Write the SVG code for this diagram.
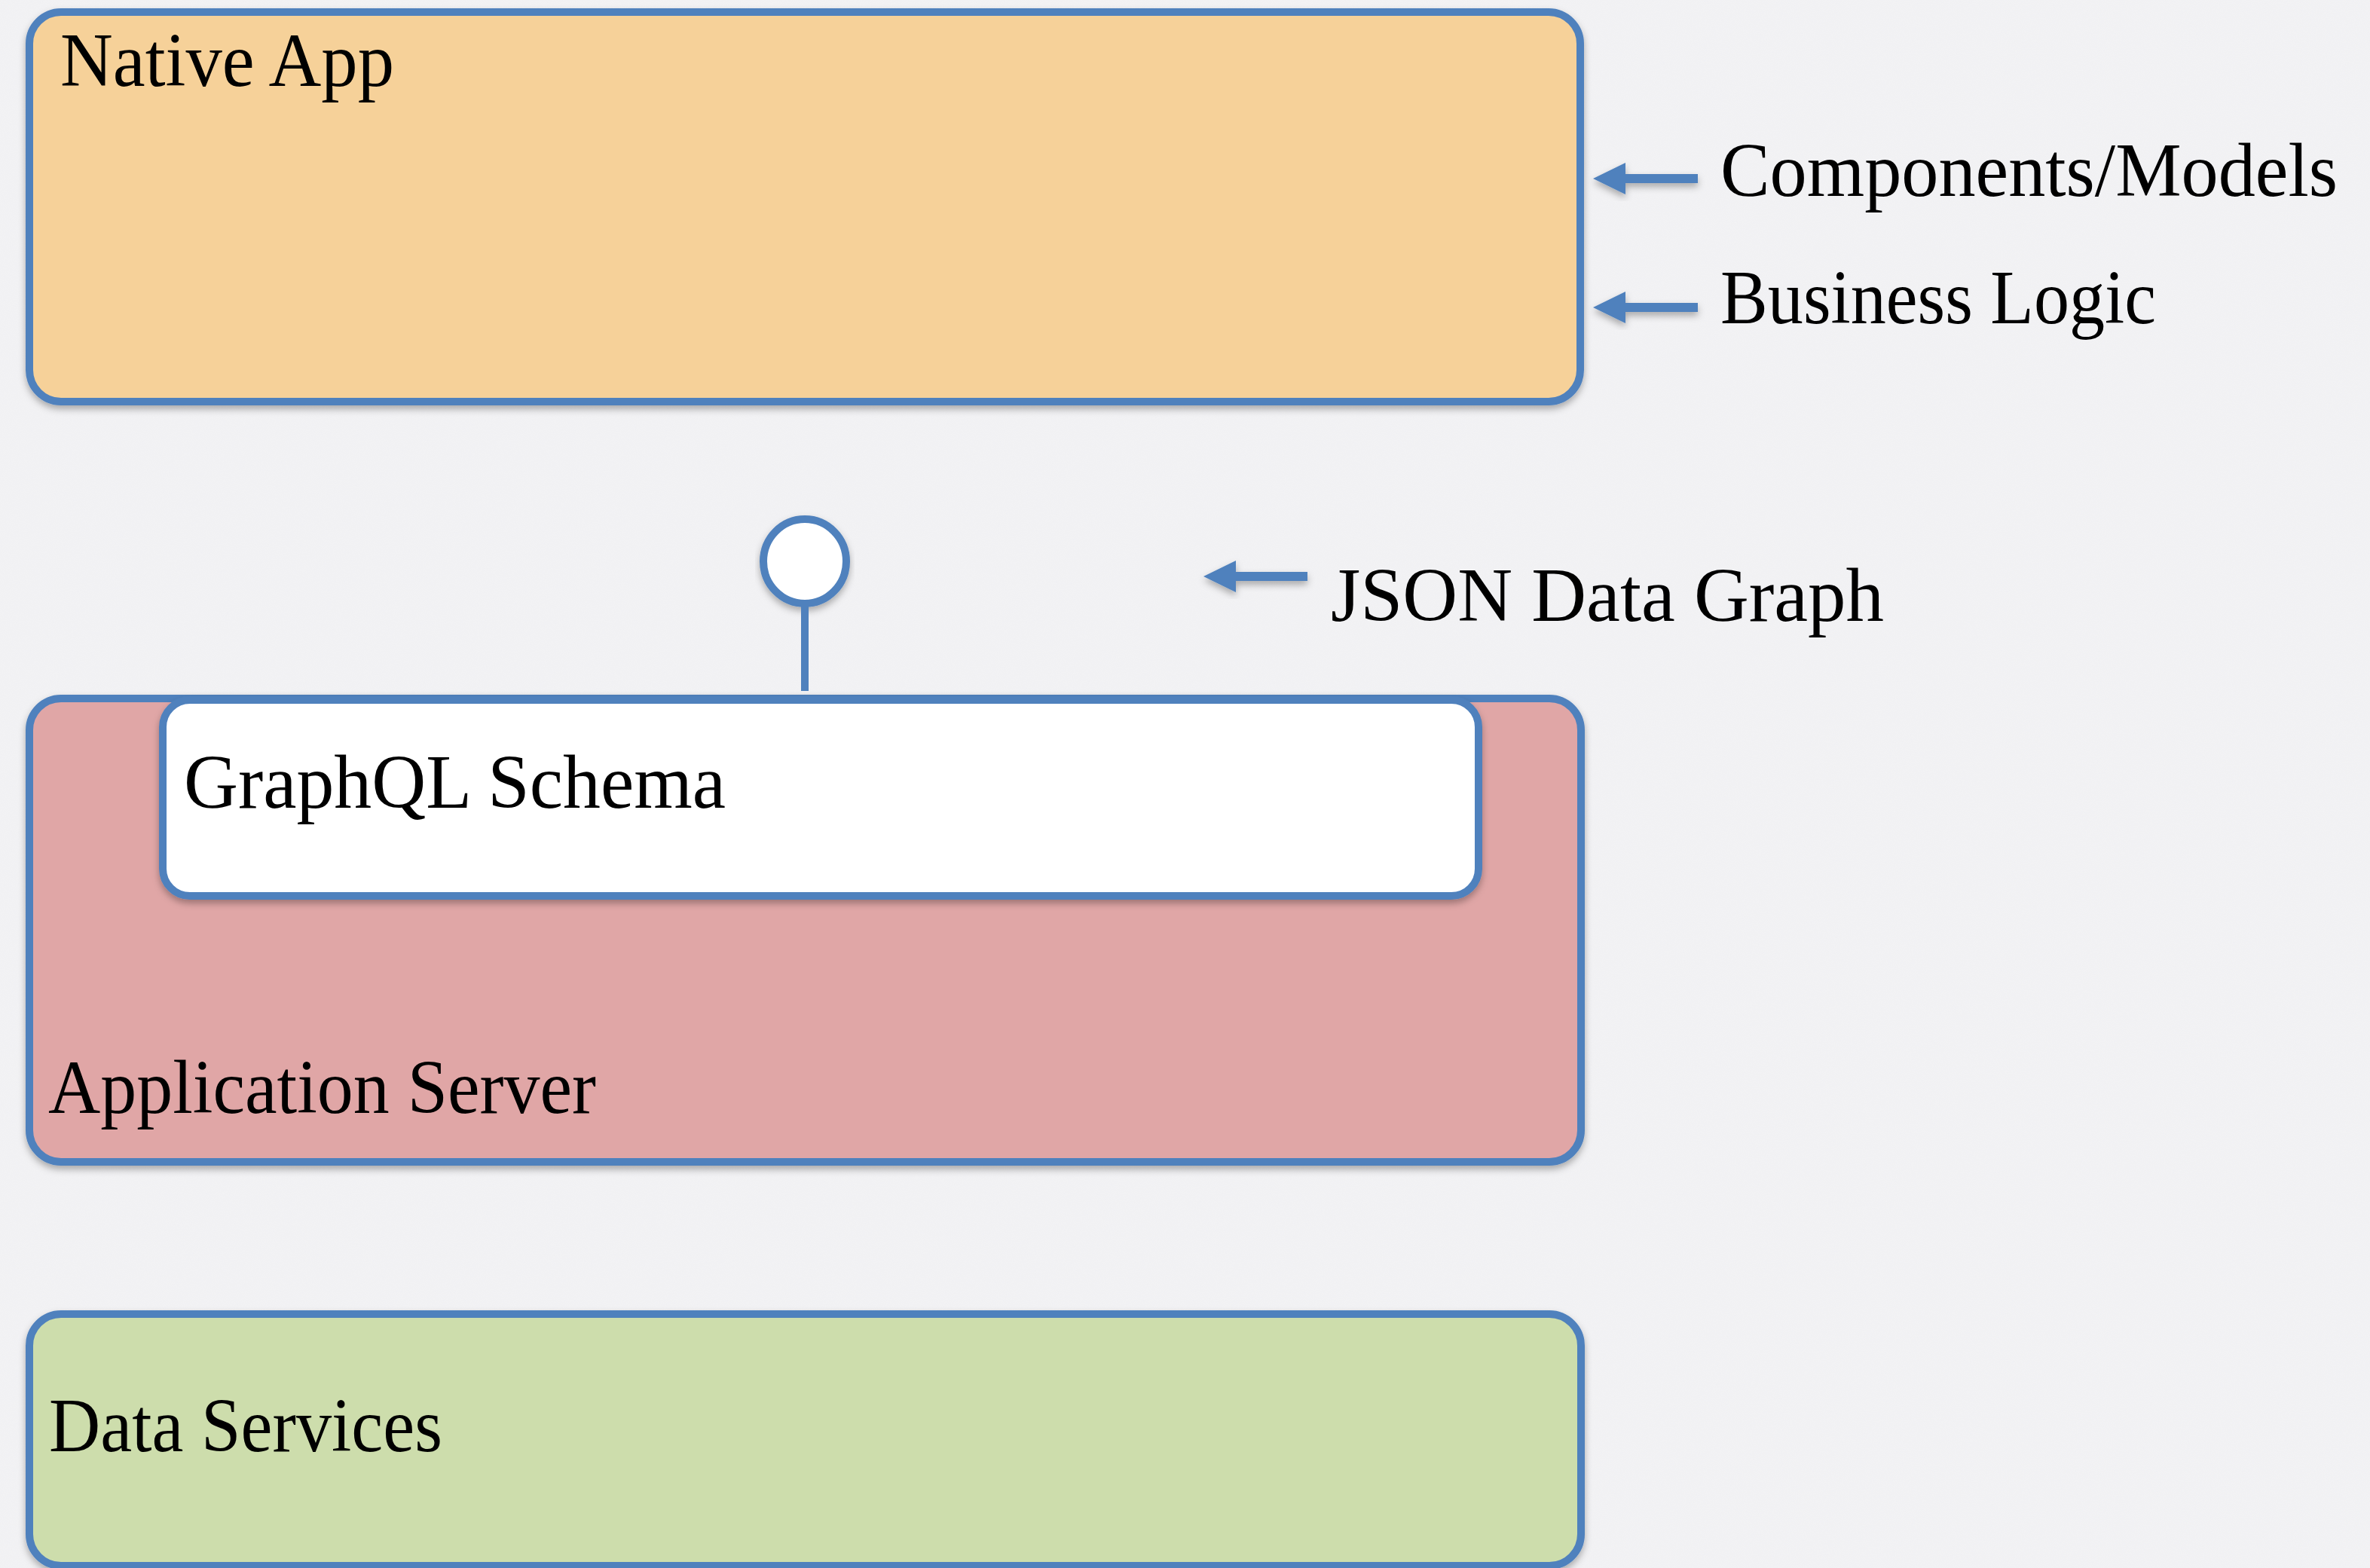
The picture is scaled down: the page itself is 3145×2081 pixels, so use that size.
<svg xmlns="http://www.w3.org/2000/svg" width="3145" height="2081" viewBox="0 0 3145 2081">
  <style>
    .box { stroke: #4F81BD; stroke-width: 10; filter: url(#shadow); }
    .label { font-family: "Liberation Serif", "Times New Roman", serif; font-size: 102px; fill: #000; }
    .arrow { fill: #4F81BD; filter: url(#shadow); }
    .stem { stroke: #4F81BD; stroke-width: 10; fill: none; }
  </style>
  <defs>
    <filter id="shadow" x="-10%" y="-10%" width="120%" height="130%">
      <feDropShadow dx="0" dy="5" stdDeviation="5" flood-color="#000" flood-opacity="0.3"/>
    </filter>
    <filter id="paper" x="0" y="0" width="100%" height="100%">
      <feTurbulence type="fractalNoise" baseFrequency="0.9" numOctaves="2" seed="3" result="n"/>
      <feColorMatrix in="n" type="matrix" values="0 0 0 0 0.5  0 0 0 0 0.5  0 0 0 0 0.55  0 0 0 0.06 0"/>
    </filter>
  </defs>

  <!-- paper background -->
  <rect x="0" y="0" width="3145" height="2081" fill="#F3F3F5"/>
  <rect x="0" y="0" width="3145" height="2081" filter="url(#paper)"/>

  <!-- top layer: client application -->
  <g id="native-app">
    <rect class="box" x="39" y="16" width="2058" height="517" rx="42" ry="42" fill="#F6D199"/>
    <text class="label" x="80" y="114" textLength="443" lengthAdjust="spacingAndGlyphs">Native App</text>
  </g>

  <!-- middle layer: server with the schema on top -->
  <g id="application-server">
    <rect class="box" x="39" y="927" width="2059" height="615" rx="42" ry="42" fill="#E0A6A6"/>
    <text class="label" x="64" y="1477" textLength="727" lengthAdjust="spacingAndGlyphs">Application Server</text>
  </g>

  <g id="graphql-schema">
    <rect class="box" x="216" y="929" width="1746" height="260" rx="36" ry="36" fill="#FFFFFF"/>
    <text class="label" x="244" y="1072" textLength="719" lengthAdjust="spacingAndGlyphs">GraphQL Schema</text>
  </g>

  <!-- bottom layer -->
  <g id="data-services">
    <rect class="box" x="39" y="1744" width="2059" height="334" rx="42" ry="42" fill="#CDDDAC"/>
    <text class="label" x="65" y="1926" textLength="522" lengthAdjust="spacingAndGlyphs">Data Services</text>
  </g>

  <!-- interface endpoint exposed by the schema -->
  <g id="schema-endpoint">
    <ellipse class="box" cx="1068" cy="745" rx="55" ry="56" fill="#FFFFFF"/>
  </g>

  <!-- side annotations -->
  <g id="components-models">
    <text class="label" x="2283" y="260" textLength="819" lengthAdjust="spacingAndGlyphs">Components/Models</text>
  </g>
  <g id="business-logic">
    <text class="label" x="2283" y="429" textLength="578" lengthAdjust="spacingAndGlyphs">Business Logic</text>
  </g>
  <g id="json-data-graph">
    <text class="label" x="1766" y="824" textLength="734" lengthAdjust="spacingAndGlyphs">JSON Data Graph</text>
  </g>

  <!-- connectors -->
  <g id="connectors">
    <line class="stem" x1="1068" y1="801" x2="1068" y2="917"/>
    <polygon class="arrow" points="2114,237 2157,216 2157,231 2253,231 2253,243 2157,243 2157,258"/>
    <polygon class="arrow" points="2114,408 2157,387 2157,402 2253,402 2253,414 2157,414 2157,429"/>
    <polygon class="arrow" points="1597,765 1640,744 1640,759 1735,759 1735,771 1640,771 1640,786"/>
  </g>
</svg>
